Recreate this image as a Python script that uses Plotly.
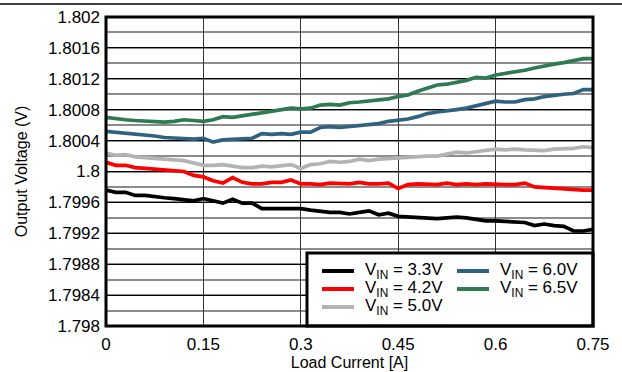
import plotly.graph_objects as go

load_current = [round(0.015 * i, 3) for i in range(51)]

v_33 = [1.79976, 1.79973, 1.79973, 1.79969, 1.79969, 1.79967, 1.79966, 1.79965, 1.79963, 1.79962,
        1.79965, 1.79962, 1.79959, 1.79964, 1.79959, 1.79959, 1.79952, 1.79952, 1.79952, 1.79951,
        1.79952, 1.79950, 1.79948, 1.79947, 1.79947, 1.79945, 1.79947, 1.79949, 1.79944, 1.79946,
        1.79942, 1.79941, 1.79941, 1.79939, 1.79939, 1.79940, 1.79941, 1.79940, 1.79938, 1.79936,
        1.79936, 1.79935, 1.79935, 1.79934, 1.79930, 1.79932, 1.79930, 1.79929, 1.79923, 1.79923,
        1.79925]
v_42 = [1.80012, 1.80008, 1.80008, 1.80005, 1.80004, 1.80003, 1.80002, 1.80001, 1.80000, 1.79995,
        1.79993, 1.79988, 1.79985, 1.79992, 1.79986, 1.79984, 1.79984, 1.79986, 1.79986, 1.79989,
        1.79984, 1.79984, 1.79983, 1.79985, 1.79984, 1.79984, 1.79986, 1.79984, 1.79984, 1.79985,
        1.79978, 1.79983, 1.79984, 1.79984, 1.79983, 1.79985, 1.79983, 1.79984, 1.79983, 1.79984,
        1.79983, 1.79983, 1.79983, 1.79985, 1.79980, 1.79979, 1.79979, 1.79977, 1.79977, 1.79976,
        1.79976]
v_50 = [1.80024, 1.80021, 1.80022, 1.80019, 1.80018, 1.80017, 1.80017, 1.80016, 1.80014, 1.80011,
        1.80008, 1.80008, 1.80009, 1.80007, 1.80005, 1.80005, 1.80007, 1.80006, 1.80008, 1.80009,
        1.80004, 1.80009, 1.80010, 1.80013, 1.80012, 1.80013, 1.80016, 1.80014, 1.80016, 1.80017,
        1.80017, 1.80018, 1.80019, 1.80020, 1.80020, 1.80023, 1.80025, 1.80024, 1.80026, 1.80027,
        1.80029, 1.80028, 1.80029, 1.80028, 1.80027, 1.80027, 1.80029, 1.80029, 1.80030, 1.80032,
        1.80031]
v_60 = [1.80052, 1.80051, 1.80050, 1.80049, 1.80047, 1.80046, 1.80044, 1.80043, 1.80042, 1.80042,
        1.80043, 1.80038, 1.80041, 1.80042, 1.80043, 1.80043, 1.80049, 1.80048, 1.80049, 1.80048,
        1.80051, 1.80051, 1.80057, 1.80058, 1.80057, 1.80058, 1.80060, 1.80061, 1.80062, 1.80065,
        1.80066, 1.80068, 1.80071, 1.80075, 1.80077, 1.80078, 1.80080, 1.80082, 1.80085, 1.80087,
        1.80091, 1.80090, 1.80090, 1.80093, 1.80094, 1.80097, 1.80099, 1.80100, 1.80101, 1.80106,
        1.80106]
v_65 = [1.80070, 1.80068, 1.80067, 1.80066, 1.80065, 1.80064, 1.80064, 1.80065, 1.80067, 1.80066,
        1.80065, 1.80067, 1.80071, 1.80070, 1.80072, 1.80073, 1.80075, 1.80078, 1.80080, 1.80082,
        1.80081, 1.80082, 1.80086, 1.80087, 1.80086, 1.80089, 1.80090, 1.80091, 1.80092, 1.80094,
        1.80097, 1.80099, 1.80104, 1.80108, 1.80112, 1.80113, 1.80115, 1.80118, 1.80122, 1.80121,
        1.80125, 1.80127, 1.80128, 1.80131, 1.80134, 1.80137, 1.80139, 1.80141, 1.80144, 1.80146,
        1.80146]

series_names = ["V<sub>IN</sub> = 3.3V", "V<sub>IN</sub> = 4.2V", "V<sub>IN</sub> = 5.0V",
                "V<sub>IN</sub> = 6.0V", "V<sub>IN</sub> = 6.5V"]
series_values = [v_33, v_42, v_50, v_60, v_65]
series_colors = ["#000000", "#FF0000", "#B3B3B3", "#2F6280", "#2E7A52"]

x_tickvals = [0, 0.15, 0.3, 0.45, 0.6, 0.75]
x_ticktext = ["0", "0.15", "0.3", "0.45", "0.6", "0.75"]
y_tickvals = [1.798, 1.7984, 1.7988, 1.7992, 1.7996, 1.8, 1.8004, 1.8008, 1.8012, 1.8016, 1.802]
y_ticktext = ["1.798", "1.7984", "1.7988", "1.7992", "1.7996", "1.8", "1.8004", "1.8008",
              "1.8012", "1.8016", "1.802"]

FONT = "Liberation Sans, Arial, sans-serif"
W, H = 622, 372
ML, MR, MT, MB = 106, 29, 17, 46
PW, PH = W - ML - MR, H - MT - MB


def px(xp):
    return (xp - ML) / PW


def py(yp):
    return (H - MB - yp) / PH


fig = go.Figure()
for name, vals, col in zip(series_names, series_values, series_colors):
    fig.add_trace(go.Scatter(x=load_current, y=vals, mode="lines", name=name,
                             line=dict(color=col, width=3.7), showlegend=False))

fig.update_layout(
    width=W, height=H,
    margin=dict(l=ML, r=MR, t=MT, b=MB, autoexpand=False),
    paper_bgcolor="white", plot_bgcolor="white",
    font=dict(family=FONT, size=16, color="black"),
    showlegend=False,
    xaxis=dict(range=[0, 0.75], tickvals=x_tickvals, ticktext=x_ticktext,
               showgrid=True, gridcolor="#333333", gridwidth=1, automargin=False,
               zeroline=False, showline=False, ticks="", tickfont=dict(size=17),
               ticklabelstandoff=6,
               title=dict(text="Load Current [A]", standoff=3, font=dict(size=16))),
    yaxis=dict(range=[1.798, 1.802], tickvals=y_tickvals, ticktext=y_ticktext, automargin=False,
               showgrid=True, gridcolor="#000000", gridwidth=1,
               minor=dict(dtick=0.0002, tick0=1.798, showgrid=True, gridcolor="#8C8C8C", gridwidth=2),
               zeroline=False, showline=False, ticks="", tickfont=dict(size=17),
               ticklabelstandoff=5,
               title=dict(text="Output Voltage (V)", standoff=16, font=dict(size=16))),
)

# legend box
fig.add_shape(type="rect", xref="paper", yref="paper", x0=px(307), x1=1.0, y0=0.0, y1=py(253),
              line=dict(color="black", width=3), fillcolor="white", layer="above")
# manual legend entries (column-major, two columns)
legend_slots = [(322, 271), (322, 289), (322, 307), (457, 271), (457, 289)]
for (lx, ly), name, col in zip(legend_slots, series_names, series_colors):
    fig.add_shape(type="line", xref="paper", yref="paper", x0=px(lx), x1=px(lx + 32),
                  y0=py(ly), y1=py(ly), line=dict(color=col, width=4), layer="above")
    fig.add_annotation(xref="paper", yref="paper", x=px(lx + 41), y=py(ly), text=name,
                       showarrow=False, xanchor="left", yanchor="middle",
                       font=dict(family=FONT, size=17, color="black"))
# plot frame
fig.add_shape(type="rect", xref="paper", yref="paper", x0=0, x1=1, y0=0, y1=1,
              line=dict(color="black", width=3), layer="above")
# top rule across the page
fig.add_shape(type="line", xref="paper", yref="paper", x0=px(0), x1=px(W),
              y0=py(4), y1=py(4), line=dict(color="black", width=1.5))

fig.write_html("out.html", config={"displayModeBar": False},
               post_script="document.body.style.margin='0';document.body.style.overflow='hidden';")
